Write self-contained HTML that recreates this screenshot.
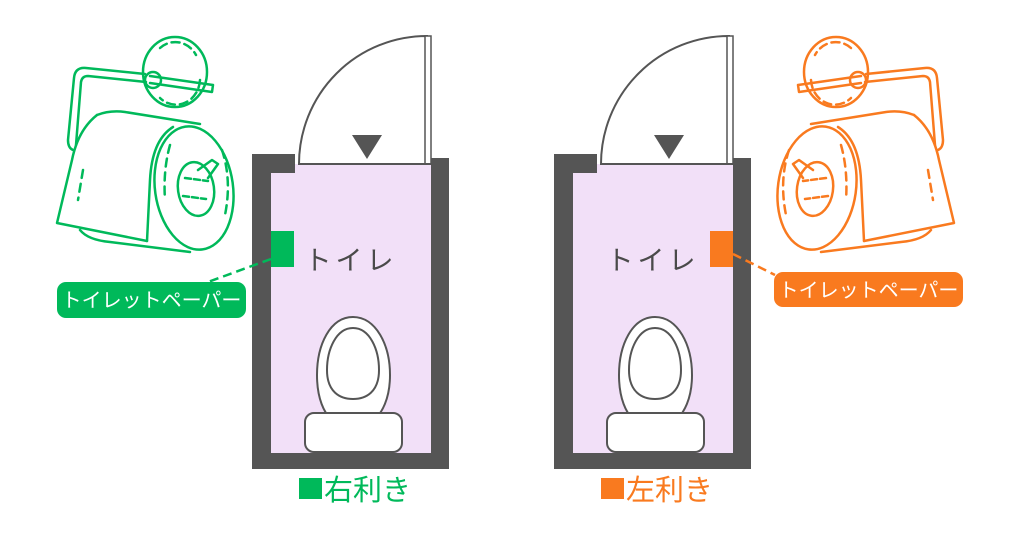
<!DOCTYPE html>
<html><head><meta charset="utf-8"><style>
html,body{margin:0;padding:0;background:#fff;width:1024px;height:555px;overflow:hidden}
svg{display:block}
text{font-family:"Liberation Sans","Noto Sans CJK JP",sans-serif}
</style></head><body>
<svg width="1024" height="555" viewBox="0 0 1024 555" xmlns="http://www.w3.org/2000/svg">
<defs>
<g id="room">
  <rect x="252" y="154" width="197" height="315" fill="#555"/>
  <rect x="271" y="164" width="160" height="289" fill="#f2e0f8"/>
  <rect x="295" y="150" width="136" height="23" fill="#fff"/>
  <rect x="295" y="164" width="136" height="10" fill="#f2e0f8"/>
  <rect x="252" y="154" width="43" height="19" fill="#555"/>
  <rect x="431" y="150" width="18" height="8" fill="#fff"/>
  <path d="M299,164 A128,128 0 0 1 427,36 L427,164 Z" fill="#fff" stroke="#555" stroke-width="2"/>
  <rect x="425" y="36" width="6" height="128" fill="#fff" stroke="#555" stroke-width="1.5"/>
  <line x1="299" y1="164" x2="431" y2="164" stroke="#555" stroke-width="2"/>
  <polygon points="352,135 382,135 367,159" fill="#555"/>
  <text x="351" y="270" font-size="27" fill="#4a4a4a" text-anchor="middle" letter-spacing="4">トイレ</text>
  <path d="M353,317 C330,317 317,345 317,375 C317,400 325,413 330,418 L376,418 C381,413 390,400 390,375 C390,345 376,317 353,317 Z" fill="#fff" stroke="#555" stroke-width="2"/>
  <path d="M353,328 C336,328 327,350 327,370 C327,392 340,399 353,399 C366,399 379,392 379,370 C379,350 370,328 353,328 Z" fill="#fff" stroke="#555" stroke-width="2"/>
  <rect x="305" y="413" width="97" height="39" rx="9" fill="#fff" stroke="#555" stroke-width="2"/>
</g>
<g id="holder" fill="none" stroke-width="2.5" stroke-linecap="round" stroke-linejoin="round">
  <ellipse cx="175" cy="72" rx="32" ry="35"/>
  <path d="M160,48 A24,26 0 0 1 196,55" stroke-dasharray="8 5"/>
  <path d="M200,80 A24,26 0 0 1 160,98" stroke-dasharray="8 5"/>
  <path d="M150,76 L213,85 L212,92 L150,83"/>
  <circle cx="153" cy="80" r="8"/>
  <path d="M145,74 L86,68 Q75,67 74,78 L68,140 Q68,148 73,150"/>
  <path d="M146,82 L88,76 Q82,76 81,82 L76,145"/>
  <path d="M97,115 Q110,110 125,112 L200,124"/>
  <ellipse cx="194" cy="188" rx="39" ry="62" transform="rotate(-8 194 188)"/>
  <ellipse cx="196" cy="189" rx="18" ry="27" transform="rotate(-8 196 189)"/>
  <path d="M198,170 L212,160 L218,164 L208,178"/>
  <path d="M185,178 L208,181 M183,196 L206,199" stroke-dasharray="6 3"/>
  <path d="M97,115 Q78,130 72,160 L57,223 L147,241"/>
  <path d="M173,127 Q152,140 150,180 L147,241"/>
  <path d="M80,230 Q88,240 110,242 L190,252"/>
  <path d="M170,145 Q163,170 165,200" stroke-dasharray="8 6"/>
  <path d="M222,150 Q232,180 225,215" stroke-dasharray="8 6"/>
  <path d="M83,170 L78,200" stroke-dasharray="8 6"/>
</g>
</defs>

<use href="#room"/>
<use href="#room" transform="translate(302,0)"/>

<use href="#holder" stroke="#00b95a"/>
<rect x="271" y="231" width="23" height="36" fill="#00b95a"/>
<line x1="271" y1="259" x2="208" y2="282" stroke="#00b95a" stroke-width="2.5" stroke-dasharray="9 5"/>
<rect x="57" y="282" width="189" height="36" rx="9" fill="#00b95a"/>
<text x="151.5" y="307" font-size="20" fill="#fff" text-anchor="middle">トイレットペーパー</text>
<rect x="299" y="478" width="23" height="21" fill="#00b95a"/>
<text x="324" y="500" font-size="29" fill="#00b95a">右利き</text>

<g transform="translate(1011,0) scale(-1,1)"><use href="#holder" stroke="#f97a1f"/></g>
<rect x="710" y="231" width="23" height="36" fill="#f97a1f"/>
<line x1="733" y1="254" x2="775" y2="275" stroke="#f97a1f" stroke-width="2.5" stroke-dasharray="9 5"/>
<rect x="774" y="272" width="189" height="35" rx="9" fill="#f97a1f"/>
<text x="868.5" y="297" font-size="20" fill="#fff" text-anchor="middle">トイレットペーパー</text>
<rect x="601" y="478" width="23" height="21" fill="#f97a1f"/>
<text x="626" y="500" font-size="29" fill="#f97a1f">左利き</text>
</svg>
</body></html>
